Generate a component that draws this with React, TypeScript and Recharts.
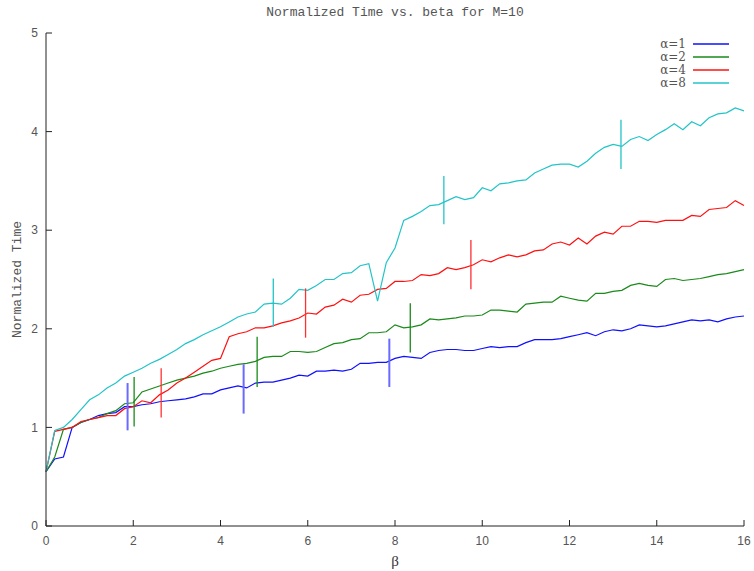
import { LineChart, Line, XAxis, YAxis, Legend, ReferenceLine } from "recharts";

// beta grid (x values)
const betas = [
  0, 0.2, 0.4, 0.6, 0.8, 1, 1.2, 1.4, 1.6, 1.8, 2, 2.2, 2.4, 2.6, 2.8, 3, 3.2, 3.4, 3.6, 3.8,
  4, 4.2, 4.4, 4.6, 4.8, 5, 5.2, 5.4, 5.6, 5.8, 6, 6.2, 6.4, 6.6, 6.8, 7, 7.2, 7.4, 7.6, 7.8,
  8, 8.2, 8.4, 8.6, 8.8, 9, 9.2, 9.4, 9.6, 9.8, 10, 10.2, 10.4, 10.6, 10.8, 11, 11.2, 11.4, 11.6, 11.8,
  12, 12.2, 12.4, 12.6, 12.8, 13, 13.2, 13.4, 13.6, 13.8, 14, 14.2, 14.4, 14.6, 14.8, 15, 15.2, 15.4, 15.6, 15.8,
  16,
];

const alpha1 = [
  0.55, 0.68, 0.7, 1.0, 1.05, 1.08, 1.12, 1.14, 1.15, 1.21, 1.21, 1.23, 1.24, 1.26, 1.27, 1.28, 1.29, 1.31, 1.34, 1.34,
  1.38, 1.4, 1.42, 1.4, 1.45, 1.46, 1.46, 1.48, 1.5, 1.53, 1.52, 1.57, 1.57, 1.58, 1.57, 1.59, 1.65, 1.65, 1.66, 1.66,
  1.7, 1.72, 1.71, 1.7, 1.76, 1.78, 1.79, 1.79, 1.78, 1.78, 1.8, 1.82, 1.81, 1.82, 1.82, 1.86, 1.89, 1.89, 1.89, 1.9,
  1.92, 1.94, 1.96, 1.93, 1.97, 1.99, 1.98, 2.0, 2.04, 2.03, 2.02, 2.03, 2.05, 2.07, 2.09, 2.08, 2.09, 2.07, 2.1, 2.12,
  2.13,
];

const alpha2 = [
  0.55, 0.7, 0.98, 1.0, 1.05, 1.08, 1.1, 1.14, 1.17, 1.24, 1.25, 1.36, 1.39, 1.42, 1.45, 1.48, 1.5, 1.52, 1.55, 1.57,
  1.6, 1.62, 1.64, 1.65, 1.67, 1.71, 1.72, 1.72, 1.77, 1.77, 1.76, 1.77, 1.81, 1.85, 1.86, 1.89, 1.9, 1.96, 1.96, 1.97,
  2.04, 2.01, 2.02, 2.04, 2.1, 2.09, 2.1, 2.11, 2.13, 2.13, 2.14, 2.19, 2.19, 2.18, 2.17, 2.25, 2.26, 2.27, 2.27, 2.33,
  2.31, 2.29, 2.28, 2.36, 2.36, 2.38, 2.39, 2.44, 2.46, 2.44, 2.43, 2.5, 2.51, 2.49, 2.5, 2.51, 2.53, 2.55, 2.56, 2.58,
  2.6,
];

const alpha4 = [
  0.55, 0.96, 0.98, 1.0, 1.06, 1.08, 1.1, 1.12, 1.12, 1.19, 1.21, 1.27, 1.25, 1.33, 1.38, 1.45, 1.5, 1.56, 1.62, 1.68,
  1.7, 1.92, 1.95, 1.97, 2.01, 2.01, 2.03, 2.06, 2.08, 2.11, 2.16, 2.15, 2.22, 2.24, 2.3, 2.27, 2.34, 2.35, 2.4, 2.41,
  2.48, 2.48, 2.49, 2.55, 2.54, 2.56, 2.62, 2.6, 2.62, 2.65, 2.7, 2.68, 2.72, 2.75, 2.73, 2.75, 2.79, 2.8, 2.86, 2.88,
  2.85, 2.92, 2.86, 2.94, 2.98, 2.96, 3.04, 3.04, 3.09, 3.09, 3.08, 3.1, 3.1, 3.1, 3.15, 3.14, 3.21, 3.22, 3.23, 3.3,
  3.25,
];

const alpha8 = [
  0.55, 0.97, 1.0, 1.08, 1.18, 1.28, 1.33, 1.4, 1.45, 1.52, 1.56, 1.6, 1.65, 1.69, 1.74, 1.79, 1.85, 1.89, 1.94, 1.98,
  2.02, 2.07, 2.12, 2.15, 2.17, 2.25, 2.26, 2.25, 2.31, 2.4, 2.39, 2.44, 2.5, 2.5, 2.56, 2.57, 2.64, 2.66, 2.28, 2.67,
  2.82, 3.1, 3.14, 3.19, 3.25, 3.26, 3.3, 3.34, 3.31, 3.33, 3.43, 3.4, 3.47, 3.48, 3.5, 3.51, 3.58, 3.62, 3.66, 3.67,
  3.67, 3.64, 3.7, 3.78, 3.84, 3.87, 3.85, 3.92, 3.95, 3.91, 3.97, 4.02, 4.08, 4.02, 4.1, 4.06, 4.14, 4.18, 4.19, 4.24,
  4.21,
];

// error bars: x position, low, high for each series
const err1 = [[1.87, 0.97, 1.45], [4.53, 1.14, 1.64], [7.87, 1.41, 1.9]];
const err2 = [[2.02, 1.01, 1.51], [4.84, 1.41, 1.92], [8.35, 1.76, 2.26]];
const err4 = [[2.64, 1.1, 1.6], [5.95, 1.91, 2.41], [9.74, 2.4, 2.9]];
const err8 = [[5.21, 2.02, 2.51], [9.12, 3.06, 3.55], [13.18, 3.62, 4.12]];

const xTicks = [0, 2, 4, 6, 8, 10, 12, 14, 16];
const yTicks = [0, 1, 2, 3, 4, 5];

const data = betas.map((b, i) => ({
  beta: b,
  a1: alpha1[i],
  a2: alpha2[i],
  a4: alpha4[i],
  a8: alpha8[i],
}));

const series = [
  { key: "a1", name: "1", color: "#1010ff", err: err1, errColor: "#6a6aff", errWidth: 2 },
  { key: "a2", name: "2", color: "#1a8a1a", err: err2, errColor: "#1a8a1a", errWidth: 1.3 },
  { key: "a4", name: "4", color: "#ff1010", err: err4, errColor: "#ff3030", errWidth: 1.3 },
  { key: "a8", name: "8", color: "#22c4c8", err: err8, errColor: "#22c4c8", errWidth: 1.3 },
];

const tickFont = { fill: "#555", fontSize: 12, fontFamily: "'Liberation Sans', Arial, sans-serif" };
const monoFont = "'Liberation Mono', 'DejaVu Sans Mono', monospace";

// legend drawn as a small svg block, rows 13px apart
function LegendBox() {
  return (
    <svg width={90} height={54} style={{ display: "block" }}>
      {series.map((s, i) => {
        const cy = 7 + i * 13;
        return (
          <g key={s.key}>
            <text
              x={46}
              y={cy}
              textAnchor="end"
              dominantBaseline="central"
              fontSize={12}
              fill="#555"
              fontFamily="'DejaVu Serif', serif"
            >
              {`α=${s.name}`}
            </text>
            <line x1={53} x2={89} y1={cy} y2={cy} stroke={s.color} strokeWidth={1.4} />
          </g>
        );
      })}
    </svg>
  );
}

export default function App() {
  return (
    <div style={{ position: "absolute", left: 0, top: 0, width: 754, height: 571, background: "#fff" }}>
      <div
        style={{
          position: "absolute",
          left: 0,
          top: 5,
          width: 790,
          textAlign: "center",
          fontFamily: monoFont,
          fontSize: 13,
          color: "#555",
          lineHeight: "16px",
        }}
      >
        Normalized Time vs. beta for M=10
      </div>
      <LineChart width={754} height={571} data={data} margin={{ top: 33, right: 10, bottom: 0, left: 0 }}>
        <XAxis
          dataKey="beta"
          type="number"
          domain={[0, 16]}
          ticks={xTicks}
          height={45}
          tickSize={-6}
          tickMargin={16}
          stroke="#222"
          tick={tickFont}
          label={{ value: "β", position: "insideBottom", offset: 5, fill: "#333", fontSize: 15 }}
        />
        <XAxis
          xAxisId="top"
          orientation="top"
          type="number"
          domain={[0, 16]}
          ticks={xTicks}
          height={0}
          tickSize={-6}
          stroke="#222"
          tickFormatter={() => ""}
        />
        <YAxis
          type="number"
          domain={[0, 5]}
          ticks={yTicks}
          width={46}
          tickSize={-6}
          tickMargin={14}
          stroke="#222"
          tick={tickFont}
          label={{
            content: ({ viewBox }: any) => {
              const cy = viewBox.y + viewBox.height / 2;
              return (
                <text
                  x={17}
                  y={cy}
                  transform={`rotate(-90 17 ${cy})`}
                  textAnchor="middle"
                  dominantBaseline="central"
                  fill="#555"
                  fontSize={13}
                  fontFamily={monoFont}
                >
                  Normalized Time
                </text>
              );
            },
          }}
        />
        <YAxis
          yAxisId="right"
          orientation="right"
          type="number"
          domain={[0, 5]}
          ticks={yTicks}
          width={0}
          tickSize={-6}
          stroke="#555"
          strokeWidth={1.5}
          tickFormatter={() => ""}
        />
        <Legend
          layout="vertical"
          align="center"
          verticalAlign="middle"
          content={<LegendBox />}
          wrapperStyle={{ top: 37, left: 640, width: 90 }}
        />
        {series.map((s) => (
          <Line
            key={s.key}
            type="linear"
            dataKey={s.key}
            name={s.name}
            stroke={s.color}
            strokeWidth={1.2}
            dot={false}
            activeDot={false}
            isAnimationActive={false}
          />
        ))}
        {series.flatMap((s) =>
          s.err.map(([x, lo, hi], i) => (
            <ReferenceLine
              key={`${s.key}-err-${i}`}
              segment={[
                { x, y: lo },
                { x, y: hi },
              ]}
              stroke={s.errColor}
              strokeWidth={s.errWidth}
            />
          ))
        )}
      </LineChart>
    </div>
  );
}
